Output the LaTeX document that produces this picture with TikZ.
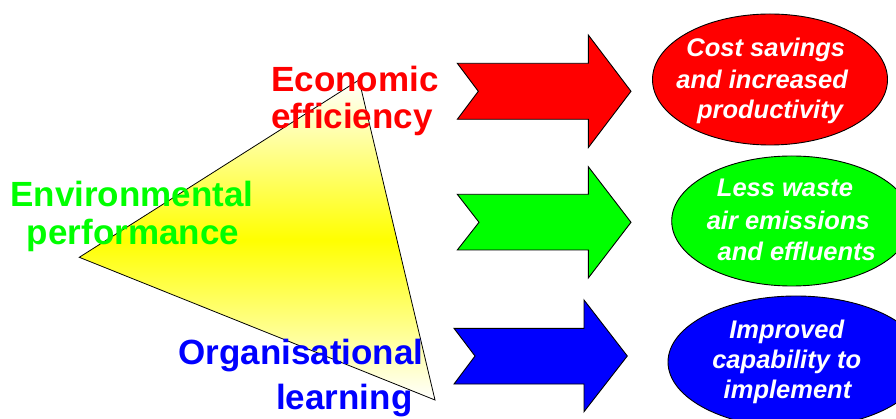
\documentclass[tikz,border=0pt]{standalone}
\usepackage{fontspec}
\setmainfont{Liberation Sans}
\usetikzlibrary{shapes.geometric}
\definecolor{cred}{RGB}{255,0,0}
\definecolor{cgreen}{RGB}{0,255,0}
\definecolor{cblue}{RGB}{0,0,255}
\tikzset{
  biglabel/.style={inner sep=0pt, anchor=base, font=\fontsize{35}{40}\selectfont\bfseries},
  ovaltext/.style={inner sep=0pt, anchor=base, text=white, font=\fontsize{25.5}{30}\selectfont\bfseries\itshape},
  oval/.style={ellipse, draw=black, line width=0.9pt, inner sep=0pt},
  fatarrow/.style={draw=black, line width=0.9pt, line join=miter},
}
\begin{document}
\begin{tikzpicture}[x=1pt,y=-1pt]
\useasboundingbox (0,0) rectangle (896,419);
\clip (0,0) rectangle (896,419);
\fill[white] (0,0) rectangle (896,419);
% triangle
\shade[top color=white, bottom color=white, middle color=yellow] (79.3,257.3) -- (359,80) -- (435,400) -- cycle;
\draw[black, line width=0.8pt, line join=miter] (79.3,257.3) -- (359,80) -- (435,400) -- cycle;
% labels
\node[biglabel, text=cred] (eco1) at (355,91.7) {Economic};
\node[biglabel, text=cred] (eco2) at (352,128.3) {efficiency};
\node[biglabel, text=cgreen] (env1) at (132,206.7) {Environmental};
\node[biglabel, text=cgreen] (env2) at (133,245) {performance};
\node[biglabel, text=cblue] (org1) at (301,364) {Organisational};
\node[biglabel, text=cblue] (org2) at (344.3,409) {learning};
% arrows
\filldraw[fatarrow, fill=cred] (457.3,63.3) -- (588.3,63.3) -- (588.3,35) -- (631,91.3) -- (588.3,147.6) -- (588.3,119.3) -- (457.3,119.3) -- (478.3,91.3) -- cycle;
\filldraw[fatarrow, fill=cgreen] (457.3,194.3) -- (588.3,194.3) -- (588.3,166.7) -- (631,222.3) -- (588.3,278) -- (588.3,250) -- (457.3,250) -- (479,222.3) -- cycle;
\filldraw[fatarrow, fill=cblue] (454,328.3) -- (584,328.3) -- (584,300) -- (627.3,356) -- (584,411.7) -- (584,384) -- (454,384) -- (475,356) -- cycle;
% ovals
\node[oval, fill=cred, minimum width=235pt, minimum height=131pt] (o1) at (770,79.5) {};
\node[oval, fill=cgreen, minimum width=240pt, minimum height=130pt] (o2) at (791.7,221) {};
\node[oval, fill=cblue, minimum width=256pt, minimum height=132pt] (o3) at (796,362) {};
% oval texts
\node[ovaltext] (t11) at (765.8,56.7) {Cost savings};
\node[ovaltext] (t12) at (762.2,88.3) {and increased};
\node[ovaltext] (t13) at (770,118.3) {productivity};
\node[ovaltext] (t21) at (785,196.7) {Less waste};
\node[ovaltext] (t22) at (788.3,229.3) {air emissions};
\node[ovaltext] (t23) at (796.7,260.7) {and effluents};
\node[ovaltext] (t31) at (786.7,338.3) {Improved};
\node[ovaltext] (t32) at (786.7,368.3) {capability to};
\node[ovaltext] (t33) at (787.5,398.3) {implement};
\end{tikzpicture}
\end{document}
